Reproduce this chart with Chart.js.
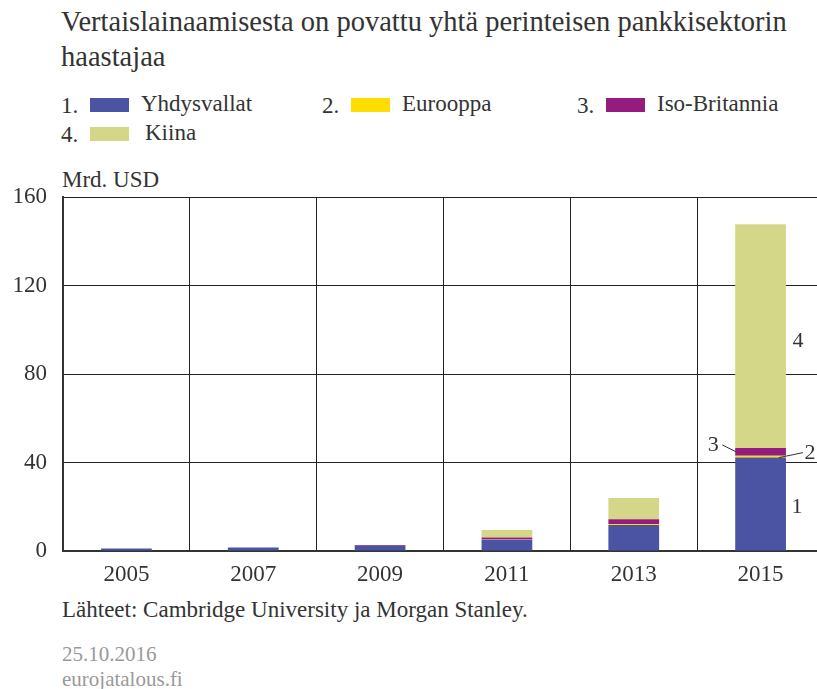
<!DOCTYPE html>
<html>
<head>
<meta charset="utf-8">
<script src="https://cdn.jsdelivr.net/npm/chart.js@4"></script>
<style>
  body { margin: 0; width: 817px; height: 689px; overflow: hidden; background: #fff;
         font-family: "Liberation Serif", serif; color: #333; position: relative; }
  .abs { position: absolute; white-space: nowrap; }
  #title { left: 61px; top: 4px; font-size: 28.5px; line-height: 35px; }
  .leg { font-size: 23px; line-height: 24px; }
  .sw { position: absolute; width: 39px; height: 14px; }
  #chartBox { position: absolute; left: 0; top: 0; width: 824px; height: 689px; }
</style>
</head>
<body>
<div id="title" class="abs">Vertaislainaamisesta on povattu yhtä perinteisen pankkisektorin<br>haastajaa</div>
<div id="legend"></div>
<div class="abs" style="left:62px;top:168px;font-size:23px;line-height:23px;">Mrd. USD</div>
<div class="abs" style="left:62px;top:598px;font-size:23px;line-height:23px;">Lähteet: Cambridge University ja Morgan Stanley.</div>
<div class="abs" style="left:62px;top:644px;font-size:21px;line-height:21px;color:#999;">25.10.2016</div>
<div class="abs" style="left:62px;top:669px;font-size:21px;line-height:21px;color:#999;">eurojatalous.fi</div>
<div id="chartBox"><canvas id="chart"></canvas></div>
<script>
const years = ['2005', '2007', '2009', '2011', '2013', '2015'];
const seriesNames = ['Yhdysvallat', 'Eurooppa', 'Iso-Britannia', 'Kiina'];
const usa = [1.1, 1.6, 2.4, 5.1, 11.8, 42.3];
const europe = [0, 0, 0, 0.1, 0.4, 0.7];
const uk = [0, 0, 0.3, 0.9, 2.1, 3.6];
const china = [0, 0, 0, 3.4, 9.6, 101.1];
const yTicks = [0, 40, 80, 120, 160];
const colors = ['#4a54a3', '#ffdd00', '#951b7f', '#d4d788'];

// legend (HTML)
const legendPos = [[61, 92], [322, 92], [577, 92], [61, 121]];
const legend = document.getElementById('legend');
seriesNames.forEach((name, i) => {
  const [x, y] = legendPos[i];
  legend.innerHTML +=
    `<div class="abs leg" style="left:${x}px;top:${y + 2}px;">${i + 1}.</div>` +
    `<div class="sw" style="left:${x + 29}px;top:${y + 6}px;background:${colors[i]}"></div>` +
    `<div class="abs leg" style="left:${x + 80 + (i === 3 ? 4 : 0)}px;top:${y}px;">${name}</div>`;
});

// numbered labels next to the 2015 bar
const annotate = {
  id: 'annotate',
  afterDatasetsDraw(chart) {
    const ctx = chart.ctx;
    const idx = years.length - 1;
    const el = k => chart.getDatasetMeta(k).data[idx];
    const b1 = el(0), b2 = el(1), b3 = el(2), b4 = el(3);
    const right = b1.x + b1.width / 2, left = b1.x - b1.width / 2;
    ctx.save();
    ctx.fillStyle = '#333';
    ctx.strokeStyle = '#333';
    ctx.lineWidth = 1;
    ctx.font = '22px "Liberation Serif"';
    ctx.textAlign = 'center';
    ctx.textBaseline = 'middle';
    ctx.fillText('4', right + 12, (b4.y + b4.base) / 2 + 5);
    ctx.fillText('1', right + 11, (b1.y + b1.base) / 2 + 3);
    const y3 = (b3.y + b3.base) / 2;
    ctx.fillText('3', left - 22, y3 - 7);
    ctx.beginPath(); ctx.moveTo(left - 13, y3 - 7); ctx.lineTo(left + 1, y3); ctx.stroke();
    const y2 = (b2.y + b2.base) / 2;
    ctx.fillText('2', right + 24, y2 - 3);
    ctx.beginPath(); ctx.moveTo(right - 7, y2 + 1); ctx.lineTo(right + 17, y2 - 4); ctx.stroke();
    ctx.restore();
  }
};

new Chart(document.getElementById('chart'), {
  type: 'bar',
  data: {
    labels: years,
    datasets: [usa, europe, uk, china].map((d, i) => ({
      label: seriesNames[i],
      data: d,
      backgroundColor: colors[i],
      borderWidth: 0,
      categoryPercentage: 1,
      barPercentage: 0.4
    }))
  },
  options: {
    responsive: true,
    maintainAspectRatio: false,
    animation: false,
    layout: { padding: { top: 197, left: 0, right: 0, bottom: 0 } },
    plugins: { legend: { display: false }, tooltip: { enabled: false } },
    scales: {
      x: {
        stacked: true,
        grid: { color: '#222', lineWidth: 1, offset: true, drawTicks: false },
        border: { color: '#333', width: 2 },
        ticks: { color: '#333', font: { family: 'Liberation Serif', size: 23 }, padding: 10 },
        afterFit: s => { s.height = 689 - 551; }
      },
      y: {
        stacked: true,
        min: 0, max: 160,
        afterBuildTicks: s => { s.ticks = yTicks.map(v => ({ value: v })); },
        grid: { color: '#222', lineWidth: 1, drawTicks: false },
        border: { color: '#333', width: 2 },
        ticks: { color: '#333', font: { family: 'Liberation Serif', size: 23 }, padding: 16 },
        afterFit: s => { s.width = 63; }
      }
    }
  },
  plugins: [annotate]
});
</script>
</body>
</html>
